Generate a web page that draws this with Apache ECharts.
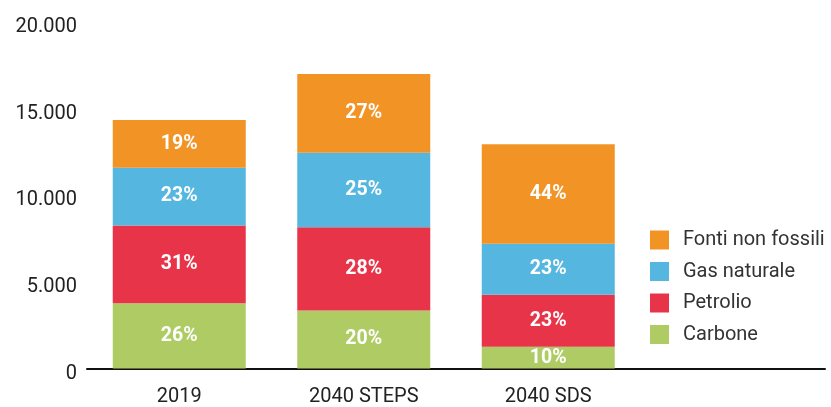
<!DOCTYPE html>
<html>
<head>
<meta charset="utf-8">
<script src="https://cdn.jsdelivr.net/npm/echarts@6/dist/echarts.min.js"></script>
<style>
  html, body { margin: 0; padding: 0; background: #fff; }
  #chart { width: 831px; height: 407px; }
</style>
</head>
<body>
<div id="chart"></div>
<script>
// Domanda di energia primaria per fonte (Mtep)
const categories = ['2019', '2040 STEPS', '2040 SDS', ''];
const carbone   = [3760, 3350, 1250];
const petrolio  = [4500, 4800, 3000];
const gas       = [3330, 4300, 2950];
const nonFossil = [2750, 4550, 5750];

const seriesNames  = ['Carbone', 'Petrolio', 'Gas naturale', 'Fonti non fossili'];
const seriesValues = [carbone, petrolio, gas, nonFossil];
const seriesColors = ['#AECC63', '#E83449', '#55B6E0', '#F29326'];

const totals = categories.map((_, i) =>
  seriesValues.reduce((s, arr) => s + (arr[i] || 0), 0));

const fmt = v => '{t|' + String(v).replace(/\B(?=(\d{3})+(?!\d))/g, '.') + '}';

const chart = echarts.init(document.getElementById('chart'), null, { renderer: 'canvas' });

chart.setOption({
  animation: false,
  textStyle: { fontFamily: 'Roboto' },
  grid: { left: 87, right: 6, top: 22, bottom: 38.5 },
  legend: {
    orient: 'vertical',
    left: 650,
    top: 230,
    padding: 0,
    itemWidth: 19,
    itemHeight: 19,
    itemGap: 11.5,
    icon: 'rect',
    data: ['Fonti non fossili', 'Gas naturale', 'Petrolio', 'Carbone'],
    textStyle: { fontSize: 20, lineHeight: 19, color: '#333', padding: [0, 0, 0, 9], fontFamily: 'Roboto' }
  },
  xAxis: {
    type: 'category',
    data: categories,
    axisLine: { lineStyle: { color: '#111', width: 2 } },
    axisTick: { show: false },
    axisLabel: { fontSize: 20, color: '#222', margin: 18, fontFamily: 'Roboto' }
  },
  yAxis: {
    type: 'value',
    min: 0,
    max: 20000,
    interval: 5000,
    splitLine: { show: false },
    axisLine: { show: false },
    axisTick: { show: false },
    axisLabel: {
      margin: 10,
      formatter: fmt,
      rich: {
        t: { fontSize: 20, color: '#222', fontFamily: 'Roboto', padding: [10, 0, 0, 0] }
      }
    }
  },
  series: seriesNames.map((name, k) => ({
    name,
    type: 'bar',
    stack: 'tot',
    barWidth: 133,
    itemStyle: { color: seriesColors[k] },
    label: {
      show: true,
      position: 'inside',
      color: '#fff',
      fontSize: 19.5,
      fontWeight: 'bold',
      fontFamily: 'Roboto',
      formatter: p => Math.round(p.value / totals[p.dataIndex] * 100) + '%'
    },
    data: seriesValues[k]
  }))
});
</script>
</body>
</html>
